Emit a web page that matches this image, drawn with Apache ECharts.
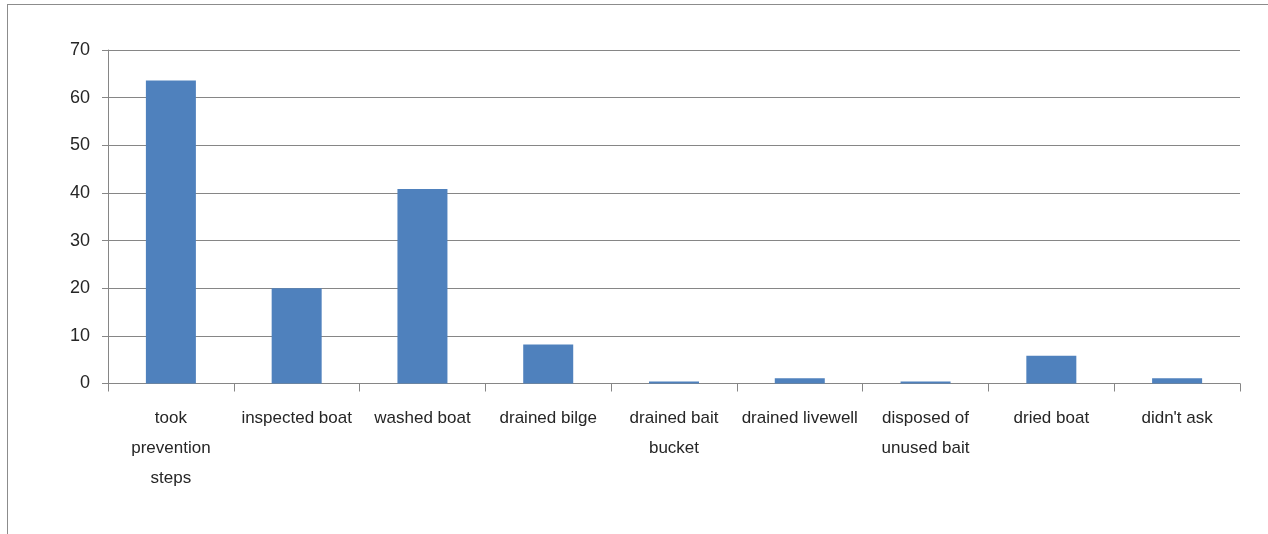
<!DOCTYPE html>
<html>
<head>
<meta charset="utf-8">
<script src="https://cdn.jsdelivr.net/npm/echarts@6/dist/echarts.min.js"></script>
<style>
  html, body { margin: 0; padding: 0; background: #fff; }
  #frame {
    position: absolute; left: 7px; top: 4px; width: 1261px; height: 530px;
    border-top: 1px solid #8c8c8c; border-left: 1px solid #8c8c8c;
  }
  #chart { position: absolute; left: 0; top: 0; width: 1268px; height: 534px; }
</style>
</head>
<body>
<div id="frame"></div>
<div id="chart"></div>
<script>
  // categories along the x axis (line breaks as in the original chart)
  const categories = [
    'took\nprevention\nsteps',
    'inspected boat',
    'washed boat',
    'drained bilge',
    'drained bait\nbucket',
    'drained livewell',
    'disposed of\nunused bait',
    'dried boat',
    "didn't ask"
  ];
  const values = [63.6, 20, 40.8, 8.2, 0.4, 1.1, 0.4, 5.8, 1.1];
  const yTicks = { min: 0, max: 70, interval: 10 };

  const font = 'Liberation Sans, Arial, sans-serif';
  const chart = echarts.init(document.getElementById('chart'));
  const option = {
    animation: false,
    grid: { left: 108, right: 28, top: 50, bottom: 150.5, containLabel: false },
    xAxis: {
      type: 'category',
      data: categories,
      axisLine: { lineStyle: { color: '#868686', width: 1 } },
      axisTick: { show: true, length: 8, lineStyle: { color: '#868686' } },
      axisLabel: {
        interval: 0, margin: 20, color: '#262626',
        fontFamily: font, fontSize: 17, lineHeight: 30
      }
    },
    yAxis: {
      type: 'value',
      min: yTicks.min, max: yTicks.max, interval: yTicks.interval,
      axisLine: { show: true, lineStyle: { color: '#868686', width: 1 } },
      axisTick: { show: true, length: 6, lineStyle: { color: '#868686' } },
      axisLabel: { margin: 18, color: '#262626', fontFamily: font, fontSize: 18 },
      splitLine: { show: true, lineStyle: { color: '#868686', width: 1 } }
    },
    series: [{
      type: 'bar',
      data: values,
      barWidth: 50,
      itemStyle: { color: '#4F81BD' }
    }]
  };
  chart.setOption(option);
</script>
</body>
</html>
